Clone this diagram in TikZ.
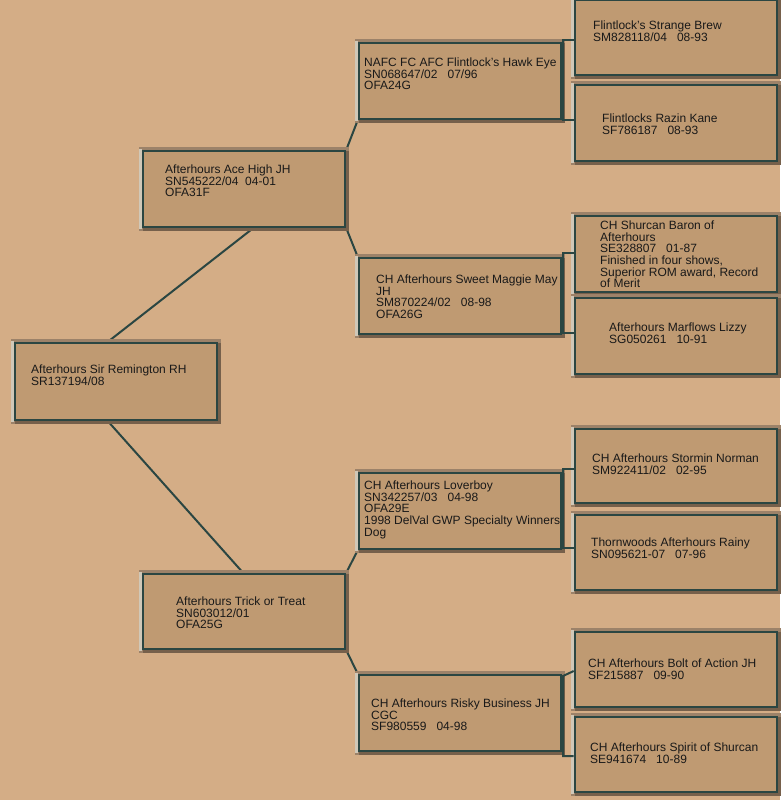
\documentclass[tikz,border=0pt]{standalone}
\usepackage{fontspec}
\setmainfont{Liberation Sans}
\usetikzlibrary{fit}
\definecolor{bg}{HTML}{D4AD86}
\definecolor{boxfill}{HTML}{BF9A72}
\definecolor{edgec}{HTML}{2B4642}
\definecolor{bevmid}{HTML}{9C8269}
\definecolor{bevdark}{HTML}{76604B}
\definecolor{bevlight}{HTML}{D0C8B8}
\pgfdeclarelayer{background}
\pgfsetlayers{background,main}
\newcommand{\pedbox}[5]{%
  \fill[bevmid] (#2-4,#3-4) rectangle (#4+4,#5+4);
  \fill[bevdark] (#2,#3) rectangle (#4+4,#5+4);
  \fill[bevlight] (#2-4,#3-2) rectangle (#2-1,#5+2);
  \node[pbox, fit={(#2,#3) (#4,#5)}] (#1) {};
}
\tikzset{
  pbox/.style={draw=edgec, line width=2.6pt, fill=boxfill, inner sep=0pt},
  conn/.style={draw=edgec, line width=2pt},
  txt/.style={font=\fontsize{12}{11.7}\selectfont, align=left, inner sep=0pt, anchor=north west, text=black!90}
}
\begin{document}
\begin{tikzpicture}[x=1pt,y=-1pt]
\useasboundingbox (0,0) rectangle (780,800);
\begin{pgfonlayer}{background}
\fill[bg] (0,0) rectangle (780,800);
\end{pgfonlayer}
% generation 0
\pedbox{root}{15}{343}{217}{420}
% generation 1
\pedbox{ace}{143}{151}{345}{227}
\pedbox{trick}{143}{574}{345}{649}
% generation 2
\pedbox{hawk}{359}{43}{561}{119}
\pedbox{maggie}{359}{258}{561}{334}
\pedbox{lover}{359}{473}{561}{549}
\pedbox{risky}{359}{675}{561}{751}
% generation 3
\pedbox{brew}{575}{0}{777}{75}
\pedbox{razin}{575}{85}{777}{161}
\pedbox{baron}{575}{216}{777}{292}
\pedbox{lizzy}{575}{298}{777}{374}
\pedbox{norman}{575}{429}{777}{503}
\pedbox{rainy}{575}{515}{777}{590}
\pedbox{bolt}{575}{632}{777}{707}
\pedbox{spirit}{575}{717}{777}{792}
% connectors
\begin{pgfonlayer}{background}
\draw[conn] (root.north -| 108,0) -- (ace.south -| 253,0);
\draw[conn] (root.south -| 108,0) -- (trick.north -| 243,0);
\draw[conn] (ace.north east) -- (hawk.south west);
\draw[conn] (ace.south east) -- (maggie.north west);
\draw[conn] (trick.north east) -- (lover.south west);
\draw[conn] (trick.south east) -- (risky.north west);
\end{pgfonlayer}
\draw[conn] (brew.west |- 0,40) -- (563,40) -- (563,120) -- (razin.west |- 0,120);
\draw[conn] (baron.west |- 0,253) -- (563,253) -- (563,333) -- (lizzy.west |- 0,333);
\draw[conn] (norman.west |- 0,469) -- (563,469) -- (563,548) -- (rainy.west |- 0,548);
\draw[conn] (bolt.west |- 0,671) -- (563,676) -- (563,756) -- (spirit.west |- 0,756);
% texts
\node[txt] (t0) at (31,364.5) {Afterhours Sir Remington RH\\SR137194/08};
\node[txt] (t1) at (165,164.5) {Afterhours Ace High JH\\SN545222/04~~04-01\\OFA31F};
\node[txt] (t2) at (176,596.5) {Afterhours Trick or Treat\\SN603012/01\\OFA25G};
\node[txt] (t3) at (364,57.5) {NAFC FC AFC Flintlock’s Hawk Eye\\SN068647/02~~~07/96\\OFA24G};
\node[txt] (t4) at (376,274.5) {CH Afterhours Sweet Maggie May\\JH\\SM870224/02~~~08-98\\OFA26G};
\node[txt] (t5) at (364,480.5) {CH Afterhours Loverboy\\SN342257/03~~~04-98\\OFA29E\\1998 DelVal GWP Specialty Winners\\Dog};
\node[txt] (t6) at (371,698.5) {CH Afterhours Risky Business JH\\CGC\\SF980559~~~04-98};
\node[txt] (t7) at (593,20.5) {Flintlock's Strange Brew\\SM828118/04~~~08-93};
\node[txt] (t8) at (602,113.5) {Flintlocks Razin Kane\\SF786187~~~08-93};
\node[txt] (t9) at (600,220.5) {CH Shurcan Baron of\\Afterhours\\SE328807~~~01-87\\Finished in four shows,\\Superior ROM award, Record\\of Merit};
\node[txt] (t10) at (609,322.5) {Afterhours Marflows Lizzy\\SG050261~~~10-91};
\node[txt] (t11) at (592,453.5) {CH Afterhours Stormin Norman\\SM922411/02~~~02-95};
\node[txt] (t12) at (591,537.5) {Thornwoods Afterhours Rainy\\SN095621-07~~~07-96};
\node[txt] (t13) at (588,658.5) {CH Afterhours Bolt of Action JH\\SF215887~~~09-90};
\node[txt] (t14) at (590,742.5) {CH Afterhours Spirit of Shurcan\\SE941674~~~10-89};
\end{tikzpicture}
\end{document}
